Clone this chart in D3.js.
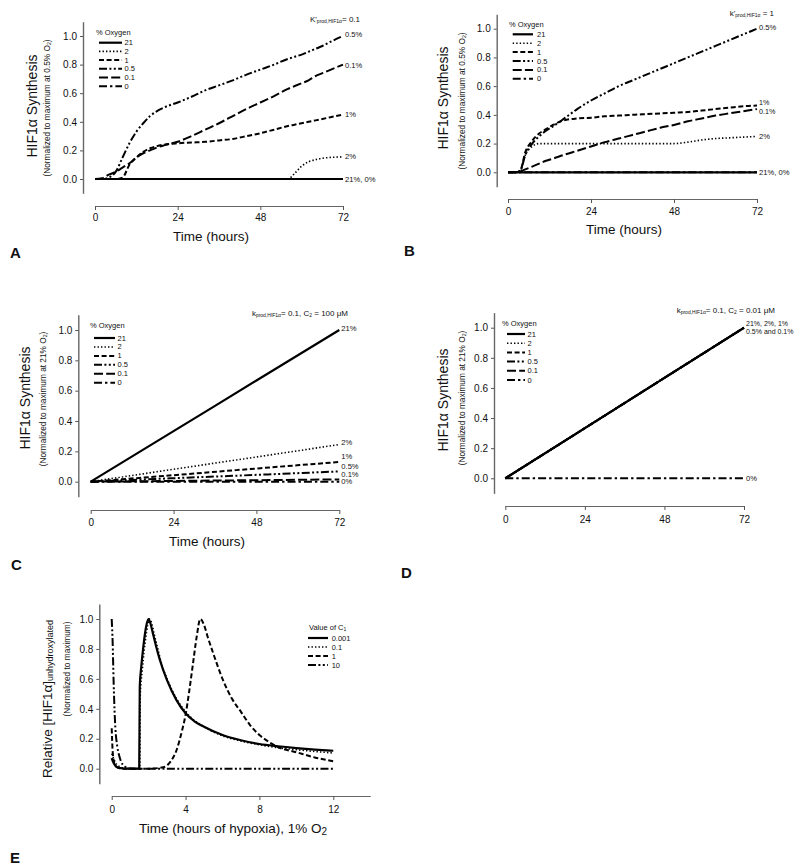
<!DOCTYPE html>
<html><head><meta charset="utf-8">
<script src="https://cdn.jsdelivr.net/npm/d3@7"></script>
<style>
body{margin:0;background:#fff}
svg{display:block}
text{font-family:"Liberation Sans",Arial,Helvetica,sans-serif;fill:#111}
</style>
</head><body>
<svg id="chart" width="800" height="868"></svg>
<script>
// ---------------- DATA ----------------
const oxygenLevels = ["21", "2", "1", "0.5", "0.1", "0"];
const c1Levels = ["0.001", "0.1", "1", "10"];
const timeTicks = [0, 24, 48, 72];
const timeTicksE = [0, 4, 8, 12];
const yTicks = [0, 0.2, 0.4, 0.6, 0.8, 1.0];

// Panel A  (k'prod,HIF1a = 0.1)
const tA   = [0, 2, 4, 6, 8, 10, 12, 14, 16, 18, 20, 24, 28, 32, 36, 40, 44, 48, 52, 56, 58, 60, 62, 64, 66, 68, 72];
const A_21 = [0, 0, 0, 0, 0, 0, 0, 0, 0, 0, 0, 0, 0, 0, 0, 0, 0, 0, 0, 0, 0, 0, 0, 0, 0, 0, 0];
const A_2  = [0, 0, 0, 0, 0, 0, 0, 0, 0, 0, 0, 0, 0, 0, 0, 0, 0, 0, 0, 0, 0.04, 0.09, 0.12, 0.135, 0.145, 0.15, 0.155];
const A_1  = [0, 0, 0, 0, 0.01, 0.1, 0.15, 0.19, 0.215, 0.23, 0.24, 0.25, 0.255, 0.26, 0.27, 0.28, 0.3, 0.32, 0.345, 0.37, 0.38, 0.39, 0.4, 0.41, 0.42, 0.43, 0.45];
const A_05 = [0, 0, 0.01, 0.05, 0.15, 0.25, 0.33, 0.39, 0.44, 0.475, 0.5, 0.535, 0.575, 0.62, 0.655, 0.69, 0.73, 0.765, 0.8, 0.84, 0.855, 0.87, 0.89, 0.91, 0.93, 0.955, 1.0];
const A_01 = [0, 0.005, 0.03, 0.05, 0.08, 0.11, 0.15, 0.18, 0.2, 0.22, 0.235, 0.26, 0.3, 0.345, 0.39, 0.44, 0.49, 0.535, 0.58, 0.63, 0.65, 0.67, 0.69, 0.72, 0.74, 0.76, 0.8];
const A_0  = [0, 0, 0, 0, 0, 0, 0, 0, 0, 0, 0, 0, 0, 0, 0, 0, 0, 0, 0, 0, 0, 0, 0, 0, 0, 0, 0];

// Panel B  (k'prod,HIF1a = 1)
const tB   = [0, 2, 3.5, 5, 7, 9, 11, 13, 16, 20, 24, 28, 32, 36, 40, 44, 48, 52, 56, 60, 64, 68, 72];
const B_21 = [0, 0, 0, 0, 0, 0, 0, 0, 0, 0, 0, 0, 0, 0, 0, 0, 0, 0, 0, 0, 0, 0, 0];
const B_2  = [0, 0, 0.01, 0.12, 0.18, 0.2, 0.2, 0.2, 0.2, 0.2, 0.2, 0.2, 0.2, 0.2, 0.2, 0.2, 0.2, 0.21, 0.225, 0.235, 0.24, 0.245, 0.25];
const B_1  = [0, 0, 0.01, 0.14, 0.22, 0.27, 0.3, 0.33, 0.36, 0.375, 0.38, 0.39, 0.395, 0.4, 0.405, 0.41, 0.415, 0.42, 0.43, 0.44, 0.45, 0.46, 0.465];
const B_05 = [0, 0, 0.01, 0.12, 0.2, 0.25, 0.29, 0.32, 0.37, 0.44, 0.5, 0.55, 0.6, 0.64, 0.68, 0.72, 0.76, 0.8, 0.84, 0.88, 0.92, 0.96, 1.0];
const B_01 = [0, 0, 0.005, 0.02, 0.04, 0.06, 0.08, 0.095, 0.12, 0.15, 0.18, 0.21, 0.235, 0.26, 0.285, 0.31, 0.33, 0.355, 0.375, 0.395, 0.41, 0.425, 0.44];
const B_0  = [0, 0, 0, 0, 0, 0, 0, 0, 0, 0, 0, 0, 0, 0, 0, 0, 0, 0, 0, 0, 0, 0, 0];

// Panel C  (kprod = 0.1, C2 = 100 uM)
const tC   = [0, 24, 48, 72];
const C_21 = [0, 0.333, 0.667, 1.0];
const C_2  = [0, 0.082, 0.163, 0.245];
const C_1  = [0, 0.043, 0.087, 0.13];
const C_05 = [0, 0.023, 0.045, 0.068];
const C_01 = [0, 0.005, 0.01, 0.015];
const C_0  = [0, 0, 0, 0];

// Panel D  (kprod = 0.1, C2 = 0.01 uM)
const tD   = [0, 24, 48, 72];
const D_21 = [0, 0.333, 0.667, 1.0];
const D_2  = [0, 0.333, 0.667, 1.0];
const D_1  = [0, 0.333, 0.667, 1.0];
const D_05 = [0, 0.333, 0.667, 1.0];
const D_01 = [0, 0.333, 0.667, 1.0];
const D_0  = [0, 0, 0, 0];

// Panel E  (value of C1)
const tE_0001 = [0, 0.1, 0.2, 0.3, 0.5, 0.8, 1.0, 1.49, 1.52, 1.6, 1.7, 1.8, 1.9, 2.0, 2.1, 2.2, 2.4, 2.6, 3.0, 3.5, 4.0, 4.5, 5, 6, 7, 8, 9, 10, 11, 12];
const E_0001  = [0.07, 0.04, 0.02, 0.01, 0.003, 0, 0, 0, 0.55, 0.68, 0.8, 0.9, 0.97, 1.0, 0.97, 0.92, 0.82, 0.73, 0.59, 0.46, 0.37, 0.315, 0.28, 0.225, 0.19, 0.165, 0.15, 0.138, 0.128, 0.12];
const tE_01   = [0, 0.1, 0.2, 0.3, 0.5, 0.7, 1.0, 1.52, 1.55, 1.65, 1.75, 1.85, 1.95, 2.05, 2.15, 2.3, 2.5, 2.7, 3.0, 3.5, 4, 5, 6, 7, 8, 9, 10, 11, 12];
const E_01    = [0.1, 0.07, 0.04, 0.025, 0.01, 0.003, 0, 0, 0.5, 0.65, 0.78, 0.88, 0.96, 1.0, 0.98, 0.9, 0.8, 0.7, 0.6, 0.47, 0.38, 0.28, 0.22, 0.185, 0.16, 0.14, 0.127, 0.115, 0.105];
const tE_1    = [0, 0.05, 0.1, 0.2, 0.4, 0.6, 1, 2, 2.8, 3.2, 3.5, 3.8, 4.0, 4.2, 4.4, 4.6, 4.8, 5.0, 5.2, 5.5, 6, 6.5, 7, 7.5, 8, 8.5, 9, 10, 11, 12];
const E_1     = [0.27, 0.12, 0.06, 0.02, 0.005, 0, 0, 0, 0.01, 0.05, 0.12, 0.25, 0.36, 0.52, 0.7, 0.88, 1.0, 0.96, 0.88, 0.77, 0.6, 0.47, 0.38, 0.29, 0.225, 0.18, 0.145, 0.11, 0.075, 0.05];
const tE_10   = [0, 0.05, 0.1, 0.15, 0.2, 0.3, 0.4, 0.5, 0.7, 1.0, 1.5, 12];
const E_10    = [1.0, 0.85, 0.6, 0.4, 0.27, 0.15, 0.09, 0.05, 0.015, 0.002, 0, 0];

// ---------------- STYLES ----------------
const lineStyles = {
  solid:   {dash: null, w: 2.2},
  dotted:  {dash: "1.4,2.1", w: 1.6},
  dash:    {dash: "5,2.6", w: 2},
  dashdd:  {dash: "8,2.4,2,2.4,2,2.4", w: 2},
  longdash:{dash: "9,3.2", w: 2},
  dashdot: {dash: "8,3,2.4,3", w: 2}
};
const oxyStyle = {"21":"solid","2":"dotted","1":"dash","0.5":"dashdd","0.1":"longdash","0":"dashdot"};
const c1Style = {"0.001":"solid","0.1":"dotted","1":"dash","10":"dashdd"};

const svg = d3.select("#chart");

function zip(t, v){ return t.map((d,i)=>[d, v[i]]); }

function rich(g, x, y, parts, size, opts={}){
  const t = g.append("text").attr("x", x).attr("y", y)
    .attr("font-size", size)
    .attr("text-anchor", opts.anchor || "start")
    .attr("dominant-baseline", "central");
  if (opts.rotate) t.attr("transform", `rotate(-90,${x},${y})`);
  if (opts.weight) t.attr("font-weight", opts.weight);
  let pending = 0;
  parts.forEach(p=>{
    if (typeof p === "string") {
      const ts = t.append("tspan").attr("font-size", size).text(p);
      if (pending) { ts.attr("dy", -pending); pending = 0; }
    } else {
      const s = p.size || size*0.62;
      t.append("tspan").attr("font-size", s).attr("dy", p.dy - pending).text(p.sub);
      pending = p.dy;
    }
  });
  return t;
}

function drawPanel(cfg){
  const g = svg.append("g");
  const x = d3.scaleLinear().domain(cfg.xDomain).range([cfg.x0, cfg.x0 + (cfg.x1 - cfg.x0) * (cfg.xDomain[1]-cfg.xDomain[0]) / (cfg.xEndVal - cfg.xDomain[0])]);
  const y = d3.scaleLinear().domain([0, 1]).range([cfg.y0, cfg.y1]);
  const yAxisScale = d3.scaleLinear().domain([-0.1, 1.1]).range([y(-0.1), y(1.1)]);

  // y axis
  const ya = g.append("g").attr("transform", `translate(${cfg.yAxisX},0)`)
    .call(d3.axisLeft(yAxisScale).tickValues(yTicks).tickFormat(d3.format(".1f")).tickSize(3).tickPadding(3).tickSizeOuter(0));
  ya.select(".domain").attr("stroke", "#666").attr("stroke-width", 1.4);
  ya.selectAll(".tick line").attr("stroke", "#555");
  ya.selectAll(".tick text").attr("font-size", 10).attr("font-family", "Liberation Sans, Arial, sans-serif").attr("fill", "#111");

  // x axis
  const xa = g.append("g").attr("transform", `translate(0,${cfg.xAxisY})`)
    .call(d3.axisBottom(x).tickValues(cfg.xTicks).tickFormat(d3.format("d")).tickSize(4).tickPadding(cfg.tickLblC - cfg.xAxisY - 8).tickSizeOuter(0));
  xa.select(".domain").attr("stroke", "#666").attr("stroke-width", 1.2);
  xa.selectAll(".tick line").attr("stroke", "#555");
  xa.selectAll(".tick text").attr("font-size", 10).attr("font-family", "Liberation Sans, Arial, sans-serif").attr("fill", "#111");

  // titles
  if (cfg.xTitle) rich(g, cfg.titleX, cfg.titleC, cfg.xTitle, 13.5, {anchor:"middle"});
  rich(g, cfg.yTitleX, cfg.yTitleC, cfg.yTitle, cfg.yTitleSize || 14, {anchor:"middle", rotate:true});
  rich(g, cfg.ySubX, cfg.ySubC, cfg.ySub, 8.3, {anchor:"middle", rotate:true});
  rich(g, cfg.labelX, cfg.labelC, [cfg.label], 15, {weight:"bold"});

  // annotation
  if (cfg.annot) rich(g, cfg.annotX, cfg.annotC, cfg.annot, 8, {anchor:"end"});

  // series
  const line = d3.line().x(d=>x(d[0])).y(d=>y(d[1])).curve(d3.curveMonotoneX);
  cfg.series.forEach(s=>{
    const st = lineStyles[s.style];
    g.append("path").datum(zip(s.t, s.v))
      .attr("d", line).attr("fill", "none").attr("stroke", "#000")
      .attr("stroke-width", st.w).attr("stroke-dasharray", st.dash);
  });

  // end labels
  (cfg.endLabels || []).forEach(l=>{
    g.append("text").attr("x", x(cfg.xEndVal) + 2).attr("y", y(l.v) + (l.dy || 0))
      .attr("font-size", l.size || 7.6).attr("dominant-baseline", "central").text(l.txt);
  });

  // legend
  const lg = g.append("g");
  rich(lg, cfg.legX, cfg.legTitleC, cfg.legTitle, 7.5);
  cfg.legKeys.forEach((k,i)=>{
    const yy = cfg.legRow0 + i*cfg.legStep;
    const st = lineStyles[cfg.legStyle[k]];
    lg.append("line").attr("x1", cfg.legS0).attr("x2", cfg.legS1).attr("y1", yy).attr("y2", yy)
      .attr("stroke", "#000").attr("stroke-width", st.w).attr("stroke-dasharray", st.dash);
    lg.append("text").attr("x", cfg.legL).attr("y", yy).attr("font-size", 7.5)
      .attr("dominant-baseline", "central").text(k);
  });
}

const hif = ["HIF1\u03B1 Synthesis"];
const sub05 = ["(Normalized to maximum at 0.5% O", {sub:"2", dy:2}, ")"];
const sub21 = ["(Normalized to maximum at 21% O", {sub:"2", dy:2}, ")"];
const timeTitle = ["Time (hours)"];
const oxySeries = (t, arrs, order) => order.map(k => ({t, v: arrs[k], style: oxyStyle[k]}));
const drawOrder = ["0", "2", "1", "0.5", "0.1", "21"];

// Panel A
drawPanel({
  xDomain:[0,72], xEndVal:72, xTicks:timeTicks,
  yAxisX:83, y0:179, y1:36, xAxisY:206, x0:95, x1:343, tickLblC:218,
  xTitle:timeTitle, titleX:211, titleC:236,
  yTitle:hif, yTitleX:32, yTitleC:106, ySub:sub05, ySubX:47, ySubC:108,
  label:"A", labelX:10, labelC:252,
  annot:["K'", {sub:"prod,HIF1\u03B1", dy:2, size:5}, "= 0.1"], annotX:360, annotC:19,
  series: oxySeries(tA, {"21":A_21,"2":A_2,"1":A_1,"0.5":A_05,"0.1":A_01,"0":A_0}, drawOrder),
  endLabels:[{txt:"0.5%", v:1.0, dy:-1.5},{txt:"0.1%", v:0.8, dy:1},{txt:"1%", v:0.45},{txt:"2%", v:0.155},{txt:"21%, 0%", v:0}],
  legX:96, legTitleC:32, legTitle:["% Oxygen"], legKeys:oxygenLevels, legStyle:oxyStyle,
  legRow0:42.7, legStep:8.7, legS0:99, legS1:122, legL:124.5
});

// Panel B
drawPanel({
  xDomain:[0,72], xEndVal:72, xTicks:timeTicks,
  yAxisX:496.7, y0:172.3, y1:28.7, xAxisY:199, x0:508, x1:757, tickLblC:212,
  xTitle:timeTitle, titleX:624, titleC:229,
  yTitle:hif, yTitleX:443.3, yTitleC:98, ySub:sub05, ySubX:461.7, ySubC:101,
  label:"B", labelX:404, labelC:250,
  annot:["k'", {sub:"prod,HIF1\u03B1", dy:2, size:5}, " = 1"], annotX:774, annotC:12.5,
  series: oxySeries(tB, {"21":B_21,"2":B_2,"1":B_1,"0.5":B_05,"0.1":B_01,"0":B_0}, drawOrder),
  endLabels:[{txt:"0.5%", v:1.0, dy:-1.4},{txt:"1%", v:0.465, dy:-3.2, size:7.2},{txt:"0.1%", v:0.44, dy:2.4, size:7.2},{txt:"2%", v:0.25},{txt:"21%, 0%", v:0}],
  legX:509, legTitleC:24, legTitle:["% Oxygen"], legKeys:oxygenLevels, legStyle:oxyStyle,
  legRow0:34.3, legStep:8.9, legS0:512.7, legS1:533, legL:537
});

// Panel C
drawPanel({
  xDomain:[0,72], xEndVal:72, xTicks:timeTicks,
  yAxisX:78.3, y0:481.7, y1:330, xAxisY:510, x0:90.7, x1:339.3, tickLblC:522.7,
  xTitle:timeTitle, titleX:207, titleC:540.7,
  yTitle:hif, yTitleX:25, yTitleC:398, ySub:sub21, ySubX:43.3, ySubC:399,
  label:"C", labelX:11, labelC:564,
  annot:["k", {sub:"prod,HIF1\u03B1", dy:2, size:5}, "= 0.1, C", {sub:"2", dy:2, size:5}, " = 100 \u03BCM"], annotX:348, annotC:313,
  series: oxySeries(tC, {"21":C_21,"2":C_2,"1":C_1,"0.5":C_05,"0.1":C_01,"0":C_0}, drawOrder),
  endLabels:[{txt:"21%", v:1.0, dy:-1.7},{txt:"2%", v:0.245, dy:-2},{txt:"1%", v:0.13, dy:-5},{txt:"0.5%", v:0.068, dy:-4.7},{txt:"0.1%", v:0.015, dy:-5},{txt:"0%", v:0}],
  legX:90, legTitleC:324.7, legTitle:["% Oxygen"], legKeys:oxygenLevels, legStyle:oxyStyle,
  legRow0:338, legStep:8.95, legS0:94, legS1:115, legL:117.5
});

// Panel D
drawPanel({
  xDomain:[0,72], xEndVal:72, xTicks:timeTicks,
  yAxisX:494, y0:478.3, y1:327.7, xAxisY:506, x0:505.3, x1:744, tickLblC:520,
  xTitle:null,
  yTitle:hif, yTitleX:443.3, yTitleC:400, ySub:sub21, ySubX:461.7, ySubC:398,
  label:"D", labelX:401, labelC:571.7,
  annot:["k", {sub:"prod,HIF1\u03B1", dy:2, size:5}, "= 0.1, C", {sub:"2", dy:2, size:5}, " = 0.01 \u03BCM"], annotX:775, annotC:310,
  series: oxySeries(tD, {"21":D_21,"2":D_2,"1":D_1,"0.5":D_05,"0.1":D_01,"0":D_0}, ["0","2","1","0.5","21","0.1"]),
  endLabels:[{txt:"21%, 2%, 1%", v:1.0, dy:-3.8, size:7},{txt:"0.5% and 0.1%", v:1.0, dy:4, size:7},{txt:"0%", v:0}],
  legX:502, legTitleC:323, legTitle:["% Oxygen"], legKeys:oxygenLevels, legStyle:oxyStyle,
  legRow0:334, legStep:9.2, legS0:507, legS1:525, legL:527.5
});

// Panel E
drawPanel({
  xDomain:[0,14], xEndVal:12, xTicks:timeTicksE,
  yAxisX:99.3, y0:768.7, y1:619, xAxisY:796, x0:111.7, x1:333.3, tickLblC:810,
  xTitle:["Time (hours of hypoxia), 1% O", {sub:"2", dy:3, size:10}], titleX:233, titleC:828,
  yTitle:["Relative [HIF1\u03B1]", {sub:"unhydroxylated", dy:3, size:9}], yTitleSize:13.5, yTitleX:46.7, yTitleC:699,
  ySub:["(Normalized to maximum)"], ySubX:66.7, ySubC:669,
  label:"E", labelX:10, labelC:856.7,
  annot:null,
  series:[
    {t:tE_10, v:E_10, style:c1Style["10"]},
    {t:tE_1, v:E_1, style:c1Style["1"]},
    {t:tE_01, v:E_01, style:c1Style["0.1"]},
    {t:tE_0001, v:E_0001, style:c1Style["0.001"]}
  ],
  endLabels:[],
  legX:309, legTitleC:626.7, legTitle:["Value of C", {sub:"1", dy:2, size:5}], legKeys:c1Levels, legStyle:c1Style,
  legRow0:638, legStep:9, legS0:308, legS1:328, legL:331.7
});
</script>
</body></html>
